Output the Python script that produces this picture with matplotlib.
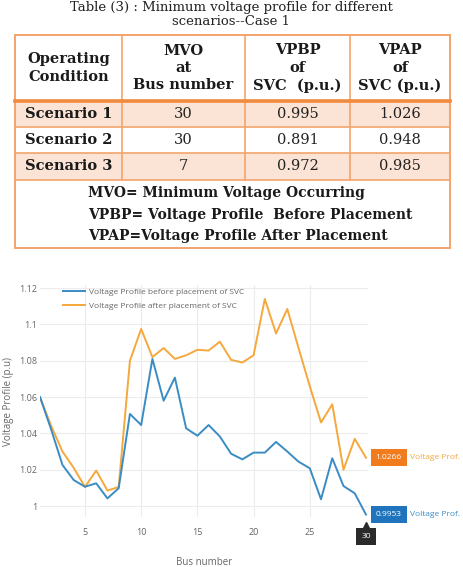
import numpy as np
import matplotlib.pyplot as plt
from matplotlib.patches import Rectangle
from matplotlib.transforms import blended_transform_factory

## Table data

title_lines = ["Table (3) : Minimum voltage profile for different", "scenarios--Case 1"]
header = ["Operating\nCondition", "MVO\nat\nBus number", "VPBP\nof\nSVC  (p.u.)", "VPAP\nof\nSVC (p.u.)"]
scenarios = ["Scenario 1", "Scenario 2", "Scenario 3"]
mvo_bus = ["30", "30", "7"]
vpbp = ["0.995", "0.891", "0.972"]
vpap = ["1.026", "0.948", "0.985"]
notes = ["MVO= Minimum Voltage Occurring",
         "VPBP= Voltage Profile  Before Placement",
         "VPAP=Voltage Profile After Placement"]

## Chart data

bus = np.arange(1, 31)
before = [1.06, 1.042, 1.0226, 1.0143, 1.0106, 1.0125, 1.0042, 1.0098, 1.0507, 1.0446,
          1.081, 1.058, 1.0707, 1.0428, 1.0387, 1.0446, 1.0383, 1.0288, 1.0257, 1.0294,
          1.0294, 1.0353, 1.030, 1.0244, 1.0208, 1.0037, 1.0263, 1.011, 1.007, 0.9953]
after = [1.06, 1.044, 1.030, 1.021, 1.0105, 1.0195, 1.0085, 1.0105, 1.080, 1.0975,
         1.082, 1.087, 1.081, 1.083, 1.086, 1.0856, 1.0905, 1.0805, 1.079, 1.083,
         1.114, 1.095, 1.1085, 1.087, 1.066, 1.046, 1.056, 1.020, 1.037, 1.0266]
yticks = [1, 1.02, 1.04, 1.06, 1.08, 1.1, 1.12]
ytick_labels = ["1", "1.02", "1.04", "1.06", "1.08", "1.1", "1.12"]
xticks = [5, 10, 15, 20, 25]
names = ["Voltage Profile before placement of SVC", "Voltage Profile after placement of SVC"]

blue = '#3a8cc4'
orange = '#f5a83c'
border = '#f2a46a'
shade = '#fbe4d5'

W, H = 463, 567
fig = plt.figure(figsize=(W / 100, H / 100), dpi=100)

## Table (drawn in pixel coordinates)

tab = fig.add_axes([0, 0, 1, 1])
tab.set_xlim(0, W)
tab.set_ylim(H, 0)
tab.axis('off')

serif = 'DejaVu Serif'
tab.text(231, 0.5, "\n".join(title_lines), ha='center', va='top', fontsize=9.5,
         family=serif, color='#222', linespacing=1.15)

col_x = [15, 122, 245, 350, 450]
row_y = [35, 101, 127, 153, 180, 248]

for i in [0, 2]:
    tab.add_patch(Rectangle((col_x[0], row_y[i + 1]), col_x[-1] - col_x[0], row_y[i + 2] - row_y[i + 1],
                            facecolor=shade, edgecolor='none'))

for x in col_x[1:-1]:
    tab.plot([x, x], [row_y[0], row_y[4]], color=border, lw=1.2)
for y in row_y[2:5]:
    tab.plot([col_x[0], col_x[-1]], [y, y], color=border, lw=1.2)
tab.plot([col_x[0], col_x[-1]], [row_y[1], row_y[1]], color='#f08a3c', lw=2.6)
tab.add_patch(Rectangle((col_x[0], row_y[0]), col_x[-1] - col_x[0], row_y[-1] - row_y[0],
                        facecolor='none', edgecolor=border, lw=1.4))

centers = [(col_x[i] + col_x[i + 1]) / 2 for i in range(4)]
for c, h in zip(centers, header):
    tab.text(c, (row_y[0] + row_y[1]) / 2, h, ha='center', va='center', fontsize=10.5,
             family=serif, fontweight='bold', linespacing=1.3, color='#1a1a1a')

for r in range(3):
    yc = (row_y[r + 1] + row_y[r + 2]) / 2
    tab.text(centers[0], yc, scenarios[r], ha='center', va='center', fontsize=10.5,
             family=serif, fontweight='bold', color='#1a1a1a')
    for c, vals in zip(centers[1:], [mvo_bus, vpbp, vpap]):
        tab.text(c, yc, vals[r], ha='center', va='center', fontsize=10.5, family=serif, color='#222')

for k, note in enumerate(notes):
    tab.text(88, 193 + k * 21.5, note, ha='left', va='center', fontsize=10,
             family=serif, fontweight='bold', color='#1a1a1a')

## Chart

ax = fig.add_axes([40 / W, 1 - 517 / H, 328 / W, 232 / H])
ax.plot(bus, before, color=blue, lw=1.4, label=names[0], zorder=3)
ax.plot(bus, after, color=orange, lw=1.4, label=names[1], zorder=2)

ax.set_xlim(1, 30.18)
ax.set_ylim(0.99395, 1.1217)
ax.set_yticks(yticks)
ax.set_yticklabels(ytick_labels)
ax.set_xticks(xticks)
for s in ax.spines.values():
    s.set_visible(False)
ax.grid(True, color='#ececec', lw=0.8)
ax.set_axisbelow(True)
ax.tick_params(length=0, labelsize=6.5, labelcolor='#666', pad=2)
ax.tick_params(axis='x', pad=8)
for lab in ax.get_xticklabels() + ax.get_yticklabels():
    lab.set_family('Open Sans')

ax.set_xlabel('Bus number', fontsize=7, color='#666', family='Open Sans', labelpad=14)
ax.set_ylabel('Voltage Profile (p.u)', fontsize=7, color='#666', family='Open Sans', labelpad=4)

leg = ax.legend(loc='upper left', bbox_to_anchor=(0.07, 0.985), frameon=False,
                borderaxespad=0, borderpad=0, handlelength=2.7, handletextpad=0.4,
                labelspacing=0.7, prop={'family': 'Open Sans', 'size': 6})
for t in leg.get_texts():
    t.set_color('#666')

# end-of-line value tags
for series, col, box in [(after, orange, '#f07c1e'), (before, blue, '#1f74bd')]:
    ax.annotate(f"{series[-1]:.4f}", xy=(bus[-1], series[-1]), xytext=(7, 0),
                textcoords='offset points', ha='left', va='center', fontsize=6, color='white',
                family='Open Sans', annotation_clip=False,
                bbox=dict(boxstyle='square,pad=0.6', facecolor=box, edgecolor='none'))
    ax.annotate("Voltage Prof.", xy=(bus[-1], series[-1]), xytext=(32, 0),
                textcoords='offset points', ha='left', va='center', fontsize=6, color=col,
                family='Open Sans', annotation_clip=False)

trans = blended_transform_factory(ax.transData, ax.transAxes)
ax.plot([bus[-1]], [-0.035], marker='^', color='#2b2b2b', markersize=4.5, transform=trans, clip_on=False)
ax.text(bus[-1], -0.083, str(bus[-1]), transform=trans, ha='center', va='center', fontsize=6,
        color='white', family='Open Sans',
        bbox=dict(boxstyle='square,pad=0.6', facecolor='#2b2b2b', edgecolor='none'))

fig.savefig('out.png', dpi=100)
